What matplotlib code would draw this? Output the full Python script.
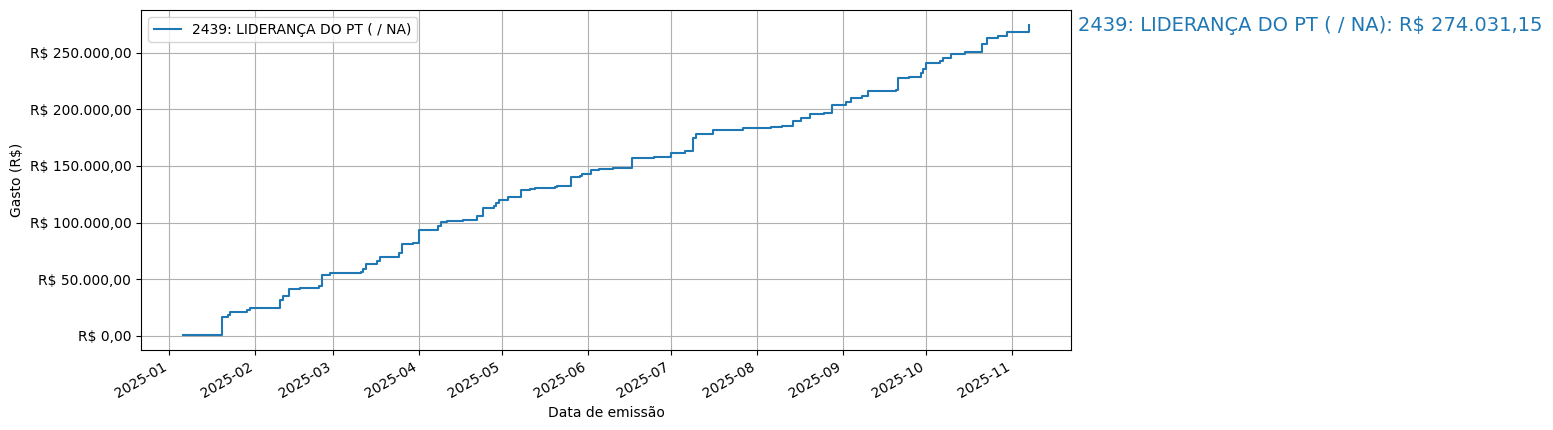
import matplotlib
matplotlib.use("Agg")
import matplotlib.pyplot as plt
import matplotlib.ticker as mticker
import pandas as pd

deputado = "2439: LIDERANÇA DO PT ( / NA)"

# datas de emissão e gasto acumulado (R$)
datas = [
    "2025-01-06", "2025-01-20", "2025-01-22", "2025-01-23", "2025-01-29", "2025-01-30",
    "2025-02-10", "2025-02-11", "2025-02-13", "2025-02-17", "2025-02-24", "2025-02-25",
    "2025-02-28", "2025-03-11", "2025-03-12", "2025-03-13", "2025-03-14", "2025-03-17",
    "2025-03-18", "2025-03-25", "2025-03-26", "2025-03-30", "2025-04-01", "2025-04-08",
    "2025-04-09", "2025-04-11", "2025-04-17", "2025-04-22", "2025-04-24", "2025-04-28",
    "2025-04-29", "2025-04-30", "2025-05-03", "2025-05-08", "2025-05-11", "2025-05-13",
    "2025-05-20", "2025-05-21", "2025-05-26", "2025-05-29", "2025-05-30", "2025-06-02",
    "2025-06-05", "2025-06-10", "2025-06-17", "2025-06-25", "2025-07-01", "2025-07-06",
    "2025-07-09", "2025-07-10", "2025-07-16", "2025-07-27", "2025-08-06", "2025-08-10",
    "2025-08-14", "2025-08-17", "2025-08-20", "2025-08-25", "2025-08-28", "2025-09-02",
    "2025-09-04", "2025-09-08", "2025-09-10", "2025-09-20", "2025-09-21", "2025-09-25",
    "2025-09-29", "2025-09-30", "2025-10-01", "2025-10-06", "2025-10-07", "2025-10-10",
    "2025-10-15", "2025-10-21", "2025-10-23", "2025-10-27", "2025-10-30", "2025-11-07",
]
acumulado = [
    1200, 17100, 18200, 20900, 22700, 25000,
    32100, 34800, 41000, 41900, 43900, 53600,
    55400, 56300, 59300, 63100, 63700, 66000,
    69600, 72800, 80800, 82000, 93800, 97000,
    100500, 101400, 102600, 105800, 112900, 114400,
    117000, 119700, 122400, 128900, 130100, 130600,
    131800, 132400, 140100, 141200, 143300, 146300,
    147200, 148300, 157000, 158100, 161300, 163200,
    174600, 178400, 181400, 183500, 184300, 185500,
    189600, 192300, 195600, 196500, 204100, 206700,
    210300, 212000, 215900, 217300, 227400, 228300,
    232300, 235300, 241200, 243000, 245600, 248900,
    250600, 257400, 263000, 264800, 268600, 274031.15,
]


def brl(v, pos=None):
    s = f"{v:,.2f}".replace(",", "X").replace(".", ",").replace("X", ".")
    return "R$ " + s


df = pd.DataFrame({"data": pd.to_datetime(datas), "gasto": acumulado})

fig, ax = plt.subplots(figsize=(15.53, 4.3), dpi=100)
ax.step(df["data"], df["gasto"], where="post", label=deputado)
ax.yaxis.set_major_formatter(mticker.FuncFormatter(brl))
ax.set_xlabel("Data de emissão")
ax.set_ylabel("Gasto (R$)")
ax.grid(True)
ax.legend(loc="upper left")

total = df["gasto"].iloc[-1]
ax.annotate(f"{deputado}: {brl(total)}", xy=(1.008, total),
            xycoords=("axes fraction", "data"), va="center", ha="left",
            fontsize=14, color="C0", annotation_clip=False)

fig.autofmt_xdate()
fig.subplots_adjust(left=0.0908, right=0.6896, top=0.9767, bottom=0.186)
fig.savefig("out.png")
